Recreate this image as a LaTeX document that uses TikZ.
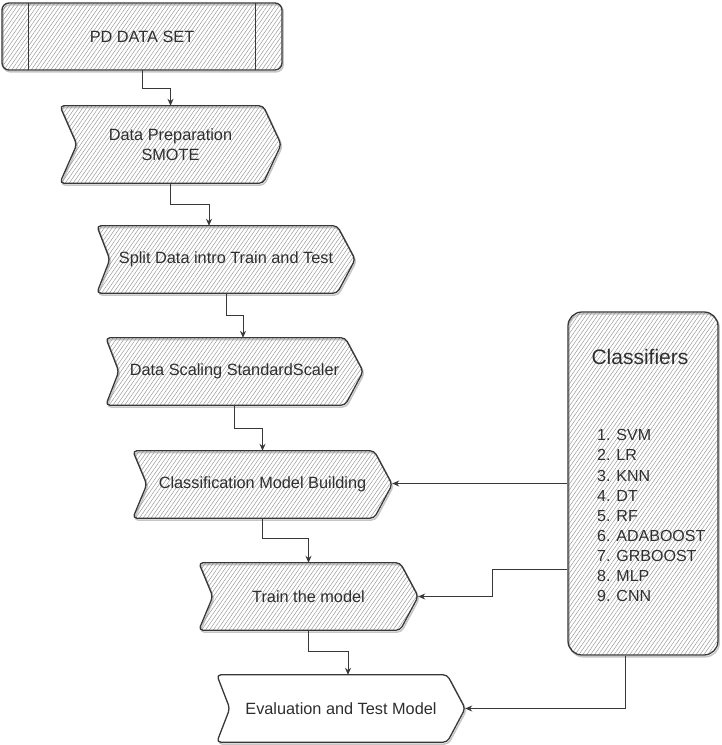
\documentclass[tikz,border=0pt]{standalone}
\usepackage{fontspec}
\setmainfont{Liberation Sans}
\usetikzlibrary{patterns.meta,arrows.meta,calc,backgrounds}
\definecolor{txt}{HTML}{2E2E2E}
\definecolor{edge}{HTML}{383838}
\tikzset{
  hatch/.style={pattern={Lines[angle=55,distance=3.2pt,line width=0.45pt]}, pattern color=gray!85},
  outl/.style={draw=edge, line width=1.3pt, rounded corners=4pt,
    preaction={draw=gray!45, line width=1.5pt, transform canvas={shift={(1.2pt,-1.8pt)}}}},
  box/.style={inner sep=0pt, text=txt, font=\fontsize{16.3}{20}\selectfont, align=center},
  arr/.style={draw=edge, line width=0.9pt, -{Stealth[length=7pt,width=6pt]}},
}
\newcommand\stepshape[3]{%
  \path[#3] (#1.north west) -- ($(#1.north east)+(-18,0)$) -- (#1.east)
    -- ($(#1.south east)+(-18,0)$) -- (#1.south west) -- ($(#1.west)+(#2,0)$) -- cycle;}
\begin{document}
\begin{tikzpicture}[x=1pt,y=-1pt]
\useasboundingbox (0,0) rectangle (721,745);
% top box
\node[box, minimum width=280pt, minimum height=67pt, outl, rounded corners=7pt, hatch] (n1) at (142,36.5) {PD DATA SET};
\draw[draw=edge, line width=1.1pt] ($(n1.north west)+(27,0)$) -- ($(n1.south west)+(27,0)$);
\draw[draw=edge, line width=1.1pt] ($(n1.north east)+(-27,0)$) -- ($(n1.south east)+(-27,0)$);
% steps
\node[box, minimum width=221pt, minimum height=77pt] (n2) at (170.5,144.5) {Data Preparation\\SMOTE};
\node[box, minimum width=258pt, minimum height=67pt] (n3) at (226,259.5) {Split Data intro Train and Test};
\node[box, minimum width=257pt, minimum height=67pt] (n4) at (234.5,371.5) {Data Scaling StandardScaler};
\node[box, minimum width=259pt, minimum height=67pt] (n5) at (262.5,484.5) {Classification Model Building};
\node[box, minimum width=219pt, minimum height=67pt] (n6) at (308.5,596.5) {Train the model};
\node[box, minimum width=248pt, minimum height=67pt] (n7) at (341,708.5) {Evaluation and Test Model};
\begin{pgfonlayer}{background}
  \stepshape{n2}{17}{outl,hatch}
  \stepshape{n3}{13}{outl,hatch}
  \stepshape{n4}{13}{outl,hatch}
  \stepshape{n5}{14}{outl,hatch}
  \stepshape{n6}{14}{outl,hatch}
  \stepshape{n7}{13}{outl,fill=white}
\end{pgfonlayer}
% classifiers
\node[minimum width=150pt, minimum height=343pt, inner sep=0pt, outl, rounded corners=14pt, hatch] (cls) at (643,483.5) {};
\node[inner sep=0pt, text=txt, font=\fontsize{21}{24}\selectfont] (clstitle) at (640,357) {Classifiers};
\node[anchor=north west, align=left, inner sep=0pt, text=txt, font=\fontsize{16}{20.1}\selectfont] (clslist) at (597,429.5)
  {1. SVM\\2. LR\\3. KNN\\4. DT\\5. RF\\6. ADABOOST\\7. GRBOOST\\8. MLP\\9. CNN};
% connectors
\draw[arr] (n1.south) -- ++(0,18) -| (n2.north);
\draw[arr] (n2.south) -- ++(0,21) -| ($(n3.north)+(-17,0)$);
\draw[arr] (n3.south) -- ++(0,22) -| ($(n4.north)+(8.5,0)$);
\draw[arr] (n4.south) -- ++(0,23) -| (n5.north);
\draw[arr] (n5.south) -- ++(0,20) -| (n6.north);
\draw[arr] (n6.south) -- ++(0,21) -| ($(n7.north)+(7,0)$);
\draw[arr] (cls.west) -- (n5.east |- cls.west);
\coordinate (c2) at ($(cls.west)+(0,85.5)$);
\draw[arr] (c2) -- ++(-75,0) |- (n6.east);
\draw[arr] ($(cls.south)+(-18,0)$) |- (n7.east);
\end{tikzpicture}
\end{document}
